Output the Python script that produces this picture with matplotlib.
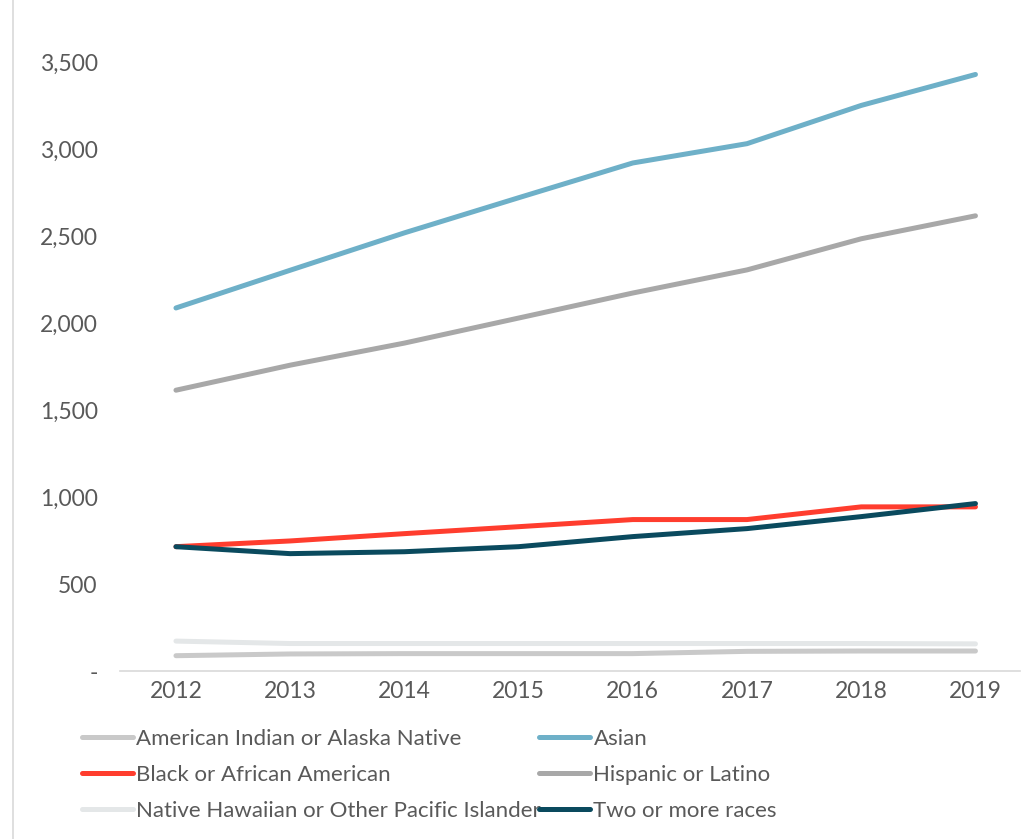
import matplotlib.pyplot as plt
from matplotlib.lines import Line2D
from matplotlib.ticker import FuncFormatter

plt.rcParams['font.family'] = ['Lato', 'DejaVu Sans']

years = [2012, 2013, 2014, 2015, 2016, 2017, 2018, 2019]

aian = [88, 98, 100, 100, 100, 113, 115, 115]
asian = [2088, 2305, 2520, 2722, 2922, 3033, 3253, 3431]
black = [715, 748, 790, 830, 871, 871, 944, 944]
hispanic = [1615, 1759, 1886, 2030, 2174, 2307, 2486, 2618]
nhpi = [172, 158, 158, 158, 158, 158, 158, 156]
two_more = [715, 675, 686, 715, 773, 819, 888, 963]

names = ['American Indian or Alaska Native', 'Asian', 'Black or African American',
         'Hispanic or Latino', 'Native Hawaiian or Other Pacific Islander',
         'Two or more races']
series = [aian, asian, black, hispanic, nhpi, two_more]
colors = ['#C9C9C9', '#6EB0C8', '#FF3D2E', '#A8A8A8', '#E4E7E8', '#0A4A5E']

fig = plt.figure(figsize=(10.22, 8.39), dpi=100)
ax = fig.add_axes([120 / 1022, 168 / 839, 900 / 1022, 652 / 839])

# draw order: light lines first, dark on top
order = [4, 0, 3, 1, 2, 5]
for i in order:
    ax.plot(years, series[i], color=colors[i], lw=3.6,
            solid_capstyle='round', solid_joinstyle='round')

ax.set_xlim(2011.51, 2019.39)
ax.set_ylim(0, 3750)
ax.set_xticks(years)
ax.set_yticks([0, 500, 1000, 1500, 2000, 2500, 3000, 3500])
ax.yaxis.set_major_formatter(FuncFormatter(lambda v, p: '-' if v == 0 else f'{v:,.0f}'))
ax.tick_params(length=0, labelsize=16.5, labelcolor='#595959')
ax.tick_params(axis='y', pad=16)
ax.tick_params(axis='x', pad=7)

for s in ['top', 'right', 'left']:
    ax.spines[s].set_visible(False)
ax.spines['bottom'].set_color('#D9D9D9')
ax.spines['bottom'].set_linewidth(1.2)

# thin border line at left edge of the chart
fig.add_artist(Line2D([13 / 1022, 13 / 1022], [0, 1], color='#D9D9D9', lw=1.2))

# legend: two columns, filled row by row
handles = [Line2D([], [], color=c, lw=3.6, solid_capstyle='round') for c in colors]
col_x = [82, 539]
for k in range(2):
    leg = fig.legend(handles[k::2], names[k::2], loc='upper left',
                     bbox_to_anchor=(col_x[k] / 1022, 1 - 729 / 839), frameon=False,
                     fontsize=16, handlelength=2.3, handletextpad=0.15,
                     labelspacing=0.72, borderaxespad=0, borderpad=0)
    for t in leg.get_texts():
        t.set_color('#595959')

fig.savefig('out.png', dpi=100)
